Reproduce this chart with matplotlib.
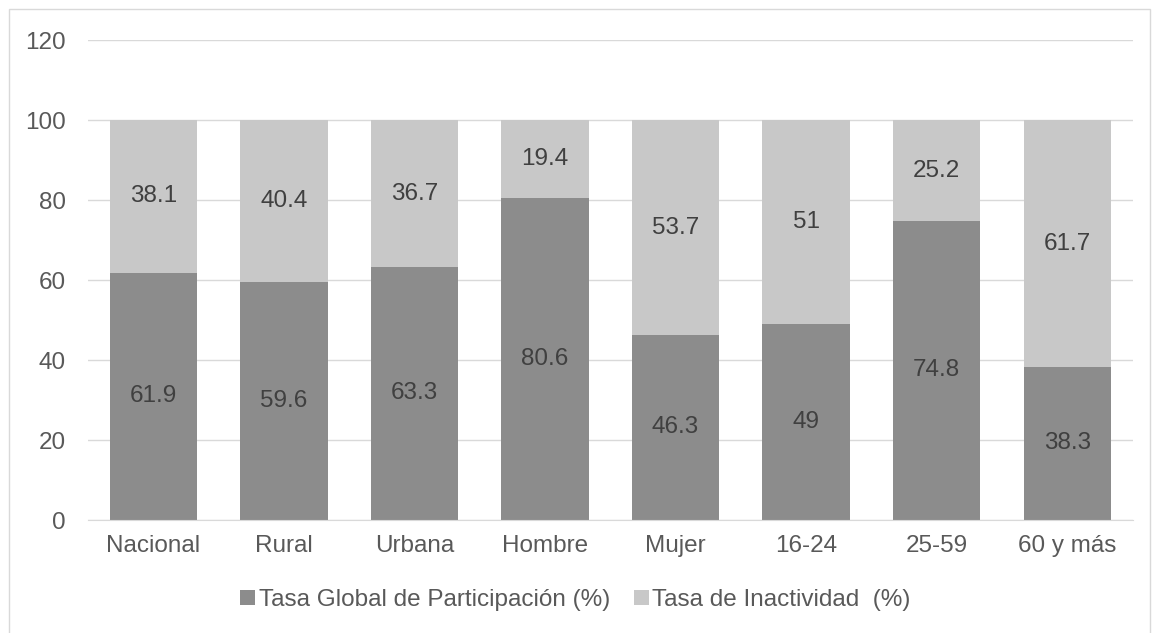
import matplotlib.pyplot as plt
from matplotlib.patches import Rectangle

plt.rcParams['font.family'] = ['Liberation Sans', 'DejaVu Sans']

# datos
categorias = ['Nacional', 'Rural', 'Urbana', 'Hombre', 'Mujer', '16-24', '25-59', '60 y más']
participacion = [61.9, 59.6, 63.3, 80.6, 46.3, 49, 74.8, 38.3]
inactividad = [38.1, 40.4, 36.7, 19.4, 53.7, 51, 25.2, 61.7]
etiquetas_y = [0, 20, 40, 60, 80, 100, 120]

color_oscuro = '#8c8c8c'
color_claro = '#c8c8c8'
color_texto = '#404040'
color_ejes = '#595959'

fig = plt.figure(figsize=(11.58, 6.33), dpi=100)
ax = fig.add_axes([0.076, 0.1785, 0.902, 0.758])

x = range(len(categorias))
b1 = ax.bar(x, participacion, width=0.67, color=color_oscuro, zorder=2,
            label='Tasa Global de Participación (%)')
b2 = ax.bar(x, inactividad, width=0.67, bottom=participacion, color=color_claro, zorder=2,
            label='Tasa de Inactividad  (%)')

ax.bar_label(b1, labels=[f'{v:g}' for v in participacion], label_type='center',
             fontsize=17.5, color=color_texto)
ax.bar_label(b2, labels=[f'{v:g}' for v in inactividad], label_type='center',
             fontsize=17.5, color=color_texto)

ax.set_ylim(0, 120)
ax.set_xlim(-0.5, len(categorias) - 0.5)
ax.set_yticks(etiquetas_y)
ax.set_xticks(list(x))
ax.set_xticklabels(categorias)
ax.tick_params(axis='both', labelsize=17.5, colors=color_ejes, length=0)
ax.tick_params(axis='y', pad=16)
ax.tick_params(axis='x', pad=11)

ax.yaxis.grid(True, color='#d9d9d9', linewidth=1, zorder=0)
ax.set_axisbelow(True)
for s in ['top', 'right', 'left']:
    ax.spines[s].set_visible(False)
ax.spines['bottom'].set_color('#d9d9d9')

leg = fig.legend(loc='center', bbox_to_anchor=(0.497, 0.052), ncol=2, frameon=False,
                 fontsize=17.5, handlelength=0.6, handleheight=0.6, handletextpad=0.15,
                 columnspacing=1.0)
for t in leg.get_texts():
    t.set_color(color_ejes)

# marco del gráfico
fig.patches.append(Rectangle((9 / 1158, -0.01), 1141 / 1158, 1 - 9 / 633 + 0.01,
                             transform=fig.transFigure, fill=False,
                             edgecolor='#d9d9d9', linewidth=1))

fig.savefig('out.png', dpi=100)
